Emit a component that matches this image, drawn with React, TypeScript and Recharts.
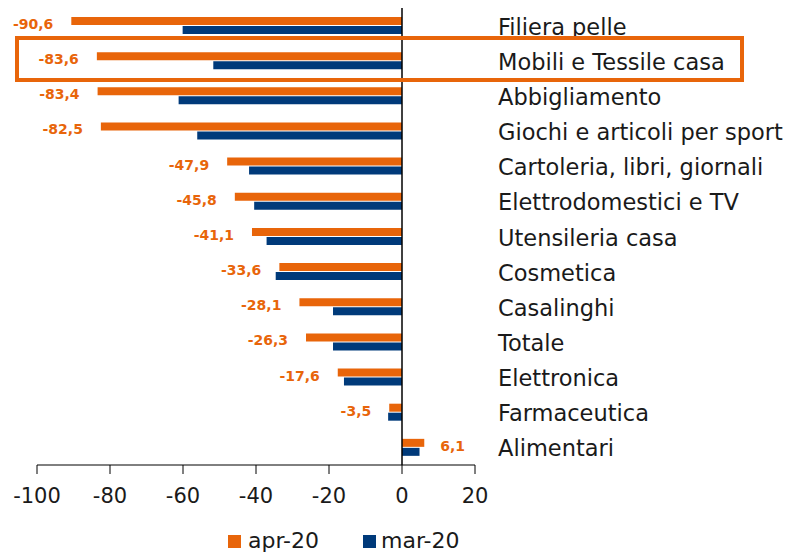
import React from 'react'
import {
  BarChart,
  Bar,
  XAxis,
  YAxis,
  ReferenceLine,
  Legend,
  LabelList,
} from 'recharts'

const categories = [
  'Filiera pelle',
  'Mobili e Tessile casa',
  'Abbigliamento',
  'Giochi e articoli per sport',
  'Cartoleria, libri, giornali',
  'Elettrodomestici e TV',
  'Utensileria casa',
  'Cosmetica',
  'Casalinghi',
  'Totale',
  'Elettronica',
  'Farmaceutica',
  'Alimentari',
]

const apr20 = [-90.6, -83.6, -83.4, -82.5, -47.9, -45.8, -41.1, -33.6, -28.1, -26.3, -17.6, -3.5, 6.1]
const mar20 = [-60.1, -51.7, -61.2, -56.1, -41.9, -40.5, -37.1, -34.6, -18.9, -18.9, -15.9, -3.8, 4.8]

const xTicks = [-100, -80, -60, -40, -20, 0, 20]

const ORANGE = '#E8650A'
const NAVY = '#003A7A'
const FONT = '"DejaVu Sans", sans-serif'

const data = categories.map((name, i) => ({ name, apr: apr20[i], mar: mar20[i] }))

const fmt = (v: number) => v.toFixed(1).replace('.', ',')

const BarLabel = (props: any) => {
  const { x, y, width, height, value } = props
  const left = Math.min(x, x + width)
  const right = Math.max(x, x + width)
  const neg = value < 0
  return (
    <text
      x={neg ? left - 18 : right + 16}
      y={y + height / 2 + 3}
      textAnchor={neg ? 'end' : 'start'}
      dominantBaseline="central"
      fill={ORANGE}
      fontSize={14}
      fontWeight="bold"
      fontFamily={FONT}
    >
      {fmt(value)}
    </text>
  )
}

const CatTick = (props: any) => {
  const { x, y, payload } = props
  return (
    <text x={x} y={y + 1} textAnchor="start" dominantBaseline="central" fill="#1a1a1a" fontSize={22.5} fontFamily={FONT}>
      {payload.value}
    </text>
  )
}

const LegendBox = () => (
  <div style={{ display: 'flex', alignItems: 'center', marginLeft: 228, fontFamily: FONT, fontSize: 22, color: '#1a1a1a', lineHeight: '26px' }}>
    <span style={{ width: 13, height: 13, background: ORANGE, display: 'inline-block', marginRight: 7 }} />
    <span style={{ marginRight: 44 }}>apr-20</span>
    <span style={{ width: 13, height: 13, background: NAVY, display: 'inline-block', marginRight: 5 }} />
    <span>mar-20</span>
  </div>
)

export default function App() {
  return (
    <div style={{ position: 'absolute', left: 0, top: 0, width: 793, height: 555, overflow: 'hidden', background: '#fff' }}>
      <BarChart
        width={793}
        height={555}
        data={data}
        layout="vertical"
        margin={{ top: 8, right: 0, bottom: 0, left: 37 }}
        barSize={8}
        barGap={1}
      >
        <XAxis
          type="number"
          domain={[-100, 20]}
          ticks={xTicks}
          interval={0}
          height={64}
          stroke="#000"
          tickSize={9}
          tickMargin={14}
          tick={{ fill: '#1a1a1a', fontSize: 21, fontFamily: FONT }}
        />
        <YAxis
          type="category"
          dataKey="name"
          orientation="right"
          width={318}
          axisLine={false}
          tickLine={false}
          tickSize={0}
          tickMargin={23}
          interval={0}
          tick={<CatTick />}
        />
        <ReferenceLine x={0} stroke="#000" strokeWidth={1.5} />
        <Bar dataKey="apr" name="apr-20" fill={ORANGE} isAnimationActive={false}>
          <LabelList dataKey="apr" content={<BarLabel />} />
        </Bar>
        <Bar dataKey="mar" name="mar-20" fill={NAVY} isAnimationActive={false} />
        <Legend verticalAlign="bottom" align="left" content={<LegendBox />} wrapperStyle={{ left: 0, bottom: 1 }} />
      </BarChart>
      <div
        style={{
          position: 'absolute',
          left: 15,
          top: 36,
          width: 729,
          height: 46,
          border: `4.5px solid ${ORANGE}`,
          boxSizing: 'border-box',
          pointerEvents: 'none',
        }}
      />
    </div>
  )
}
